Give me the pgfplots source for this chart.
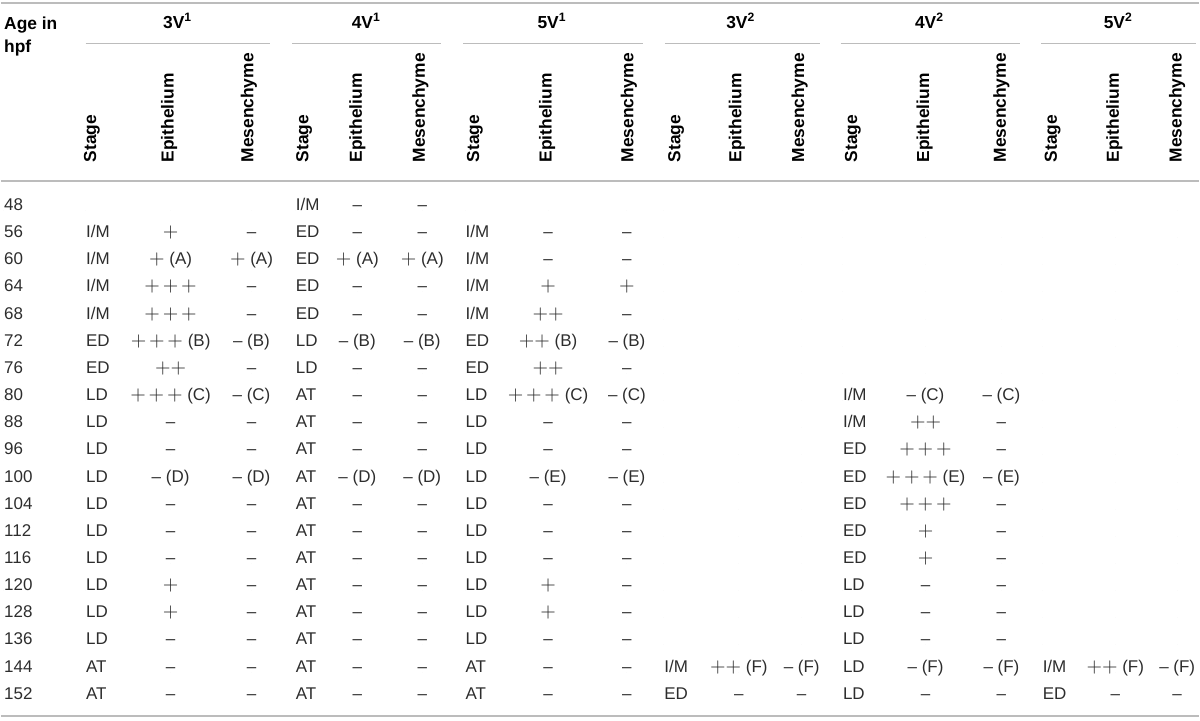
\documentclass[border=0pt]{standalone}
\usepackage{fontspec}
\setmainfont{Liberation Sans}
\usepackage{pgfplots}
\pgfplotsset{compat=1.18}
\usepackage{pgfplotstable}

\definecolor{rulegray}{RGB}{188,188,188}
\definecolor{datatext}{RGB}{45,45,45}
\newcommand{\datafont}{\fontsize{8.5}{10}\selectfont}
\newcommand{\headfont}{\fontsize{8.7}{10}\selectfont\bfseries}
\tikzset{hdr/.style={font=\headfont, inner sep=0pt}}
% the plus signs of the table are wide, thin math pluses
\newcommand{\plus}{{\fontsize{9.6}{10}\selectfont$+$}}
\newcommand{\one}{\plus}
\newcommand{\two}{\plus\plus}
\newcommand{\three}{\plus\,\plus\,\plus}

% one row per age; a = 3V1, b = 4V1, c = 5V1, d = 3V2, e = 4V2, f = 5V2
\pgfplotstableread[col sep=comma]{
row,age,sa,ea,ma,sb,eb,mb,sc,ec,mc,sd,ed,md,se,ee,me,sf,ef,mf
0,48,,,,I/M,–,–,,,,,,,,,,,,
1,56,I/M,\one,–,ED,–,–,I/M,–,–,,,,,,,,,
2,60,I/M,\one{} (A),\one{} (A),ED,\one{} (A),\one{} (A),I/M,–,–,,,,,,,,,
3,64,I/M,\three,–,ED,–,–,I/M,\one,\one,,,,,,,,,
4,68,I/M,\three,–,ED,–,–,I/M,\two,–,,,,,,,,,
5,72,ED,\three{} (B),– (B),LD,– (B),– (B),ED,\two{} (B),– (B),,,,,,,,,
6,76,ED,\two,–,LD,–,–,ED,\two,–,,,,,,,,,
7,80,LD,\three{} (C),– (C),AT,–,–,LD,\three{} (C),– (C),,,,I/M,– (C),– (C),,,
8,88,LD,–,–,AT,–,–,LD,–,–,,,,I/M,\two,–,,,
9,96,LD,–,–,AT,–,–,LD,–,–,,,,ED,\three,–,,,
10,100,LD,– (D),– (D),AT,– (D),– (D),LD,– (E),– (E),,,,ED,\three{} (E),– (E),,,
11,104,LD,–,–,AT,–,–,LD,–,–,,,,ED,\three,–,,,
12,112,LD,–,–,AT,–,–,LD,–,–,,,,ED,\one,–,,,
13,116,LD,–,–,AT,–,–,LD,–,–,,,,ED,\one,–,,,
14,120,LD,\one,–,AT,–,–,LD,\one,–,,,,LD,–,–,,,
15,128,LD,\one,–,AT,–,–,LD,\one,–,,,,LD,–,–,,,
16,136,LD,–,–,AT,–,–,LD,–,–,,,,LD,–,–,,,
17,144,AT,–,–,AT,–,–,AT,–,–,I/M,\two{} (F),– (F),LD,– (F),– (F),I/M,\two{} (F),– (F)
18,152,AT,–,–,AT,–,–,AT,–,–,ED,–,–,LD,–,–,ED,–,–
}\cells

\pgfplotsset{
  cell/.style={only marks, mark=*, mark size=0pt,
    mark options={draw=none, fill=none},
    point meta=explicit symbolic,
    nodes near coords, nodes near coords align=center,
    every node near coord/.append style={anchor=base, inner sep=0pt,
      font=\datafont, text=datatext}},
}
% column of cells: meta column, x position, anchor
\newcommand{\cellcol}[3]{%
  \addplot[cell, every node near coord/.append style={anchor=#3}]
    table[x expr=#2, y expr=210.7+27.2*\thisrow{row}, meta=#1] {\cells};}
% rotated sub-headers of one group: x of Stage, Epithelium, Mesenchyme
\newcommand{\subheads}[3]{%
  \node[hdr, anchor=base west, rotate=90] at (axis cs:#1,163) {Stage};
  \node[hdr, anchor=base west, rotate=90] at (axis cs:#2,163) {Epithelium};
  \node[hdr, anchor=base west, rotate=90] at (axis cs:#3,163) {Mesenchyme};}

\begin{document}
\begin{tikzpicture}
\begin{axis}[
    scale only axis, width=600pt, height=361pt,
    xmin=0, xmax=1200, ymin=0, ymax=722, y dir=reverse,
    hide axis, clip=false,
]
% page extent
\addplot[draw=none] coordinates {(0,0) (1200,722)};

% rules
\addplot[rulegray, line width=0.85pt] coordinates {(0,3) (1200,3)};
\addplot[rulegray, line width=0.85pt] coordinates {(0,181) (1200,181)};
\addplot[rulegray, line width=0.85pt] coordinates {(0,717) (1200,717)};
\addplot[rulegray, line width=0.55pt] coordinates {(85,44) (270,44)};
\addplot[rulegray, line width=0.55pt] coordinates {(292,44) (441,44)};
\addplot[rulegray, line width=0.55pt] coordinates {(463,44) (643,44)};
\addplot[rulegray, line width=0.55pt] coordinates {(665,44) (820,44)};
\addplot[rulegray, line width=0.55pt] coordinates {(841,44) (1021,44)};
\addplot[rulegray, line width=0.55pt] coordinates {(1042,44) (1197,44)};

% body
\cellcol{age}{3}{base west}
\cellcol{sa}{85}{base west}
\cellcol{ea}{170}{base}
\cellcol{ma}{251}{base}
\cellcol{sb}{295}{base west}
\cellcol{eb}{357}{base}
\cellcol{mb}{422}{base}
\cellcol{sc}{465}{base west}
\cellcol{ec}{548}{base}
\cellcol{mc}{627}{base}
\cellcol{sd}{664}{base west}
\cellcol{ed}{739}{base}
\cellcol{md}{802}{base}
\cellcol{se}{843}{base west}
\cellcol{ee}{926}{base}
\cellcol{me}{1002}{base}
\cellcol{sf}{1043}{base west}
\cellcol{ef}{1116}{base}
\cellcol{mf}{1178}{base}

% header
\node[hdr, anchor=base west] at (axis cs:3,30) {Age in};
\node[hdr, anchor=base west] at (axis cs:3,53) {hpf};
\node[hdr, anchor=base] at (axis cs:177,29) {3V\textsuperscript{1}};
\node[hdr, anchor=base] at (axis cs:366,29) {4V\textsuperscript{1}};
\node[hdr, anchor=base] at (axis cs:552,29) {5V\textsuperscript{1}};
\node[hdr, anchor=base] at (axis cs:741,29) {3V\textsuperscript{2}};
\node[hdr, anchor=base] at (axis cs:930,29) {4V\textsuperscript{2}};
\node[hdr, anchor=base] at (axis cs:1119,29) {5V\textsuperscript{2}};

\subheads{95.5}{173}{253}
\subheads{308}{361.5}{424.5}
\subheads{479}{551.5}{633.5}
\subheads{680.5}{741.5}{804.5}
\subheads{857.5}{929.5}{1006.5}
\subheads{1057.5}{1119.5}{1182.5}
\end{axis}
\end{tikzpicture}
\end{document}
